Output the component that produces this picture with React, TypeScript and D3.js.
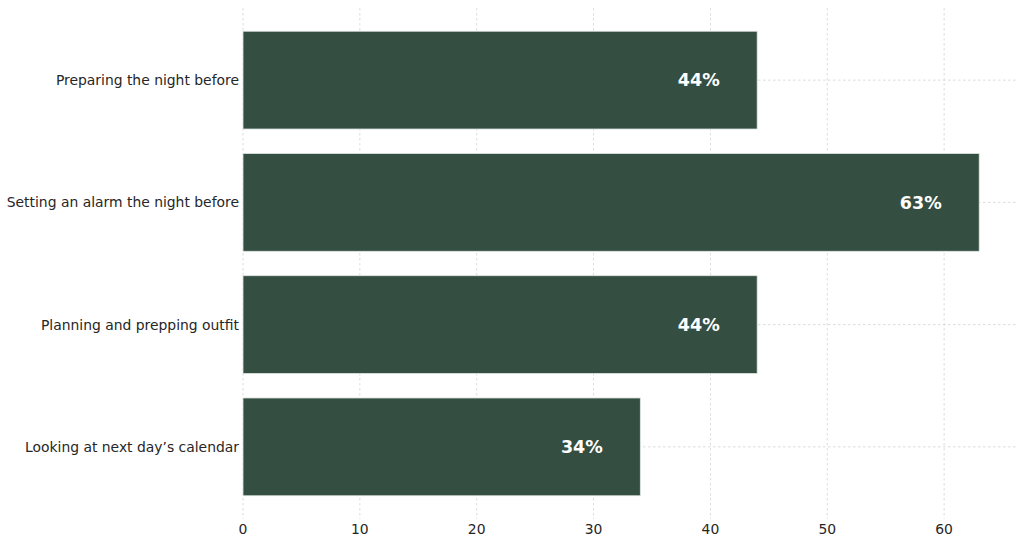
import { useEffect, useRef } from 'react';
import * as d3 from 'd3';

// Chart data
const categories = [
  "Preparing the night before",
  "Setting an alarm the night before",
  "Planning and prepping outfit",
  "Looking at next day\u2019s calendar",
];
const values = [44, 63, 44, 34];
const xTicks = [0, 10, 20, 30, 40, 50, 60];

const BAR_COLOR = "#344E41";
const GRID_COLOR = "#cccccc";
const TEXT_COLOR = "#262626";

export default function App() {
  const ref = useRef<SVGSVGElement>(null);

  useEffect(() => {
    if (!ref.current) return;
    const svg = d3.select(ref.current);
    svg.selectAll("*").remove();

    const width = 1024;
    const height = 546;
    const margin = { top: 8, right: 8, bottom: 27, left: 243 };
    const innerW = width - margin.left - margin.right;
    const innerH = height - margin.top - margin.bottom;

    const xMax = d3.max(values)! * 1.05;
    const x = d3.scaleLinear().domain([0, xMax]).range([0, innerW]);

    // matplotlib-like band placement: bars of 0.8 width, 5% margins
    const n = categories.length;
    const span = (n - 1) + 0.8;
    const pad = span * 0.05;
    const yIdx = d3.scaleLinear()
      .domain([-0.4 - pad, n - 1 + 0.4 + pad])
      .range([0, innerH]);

    const g = svg.append("g")
      .attr("transform", `translate(${margin.left},${margin.top})`);

    // Grid
    g.append("g")
      .selectAll("line")
      .data(xTicks)
      .join("line")
      .attr("x1", d => x(d))
      .attr("x2", d => x(d))
      .attr("y1", 0)
      .attr("y2", innerH)
      .attr("stroke", GRID_COLOR)
      .attr("stroke-width", 0.7)
      .attr("stroke-dasharray", "2.5,2.5");

    g.append("g")
      .selectAll("line")
      .data(categories)
      .join("line")
      .attr("x1", 0)
      .attr("x2", innerW)
      .attr("y1", (_, i) => yIdx(i))
      .attr("y2", (_, i) => yIdx(i))
      .attr("stroke", GRID_COLOR)
      .attr("stroke-width", 0.7)
      .attr("stroke-dasharray", "2.5,2.5");

    // Bars
    g.append("g")
      .selectAll("rect")
      .data(values)
      .join("rect")
      .attr("x", x(0))
      .attr("y", (_, i) => yIdx(i - 0.4))
      .attr("width", d => x(d) - x(0))
      .attr("height", (_, i) => yIdx(i + 0.4) - yIdx(i - 0.4))
      .attr("fill", BAR_COLOR)
      .attr("stroke", "#dfe6e2")
      .attr("stroke-width", 0.8);

    // Value labels
    g.append("g")
      .selectAll("text")
      .data(values)
      .join("text")
      .attr("x", d => x(d - 5))
      .attr("y", (_, i) => yIdx(i))
      .attr("dy", "0.36em")
      .attr("text-anchor", "middle")
      .attr("fill", "white")
      .attr("font-weight", "bold")
      .attr("font-size", "17.5px")
      .text(d => `${d}%`);

    // Category labels
    g.append("g")
      .selectAll("text")
      .data(categories)
      .join("text")
      .attr("x", -4)
      .attr("y", (_, i) => yIdx(i))
      .attr("dy", "0.36em")
      .attr("text-anchor", "end")
      .attr("fill", TEXT_COLOR)
      .attr("font-size", "13.9px")
      .text(d => d);

    // X tick labels
    g.append("g")
      .selectAll("text")
      .data(xTicks)
      .join("text")
      .attr("x", d => x(d))
      .attr("y", innerH + 10)
      .attr("dy", "0.36em")
      .attr("text-anchor", "middle")
      .attr("fill", TEXT_COLOR)
      .attr("font-size", "13.9px")
      .text(d => d);
  }, []);

  return (
    <svg
      ref={ref}
      width={1024}
      height={546}
      style={{ position: 'absolute', left: 0, top: 0, fontFamily: '"DejaVu Sans", sans-serif', background: 'white' }}
    />
  );
}
